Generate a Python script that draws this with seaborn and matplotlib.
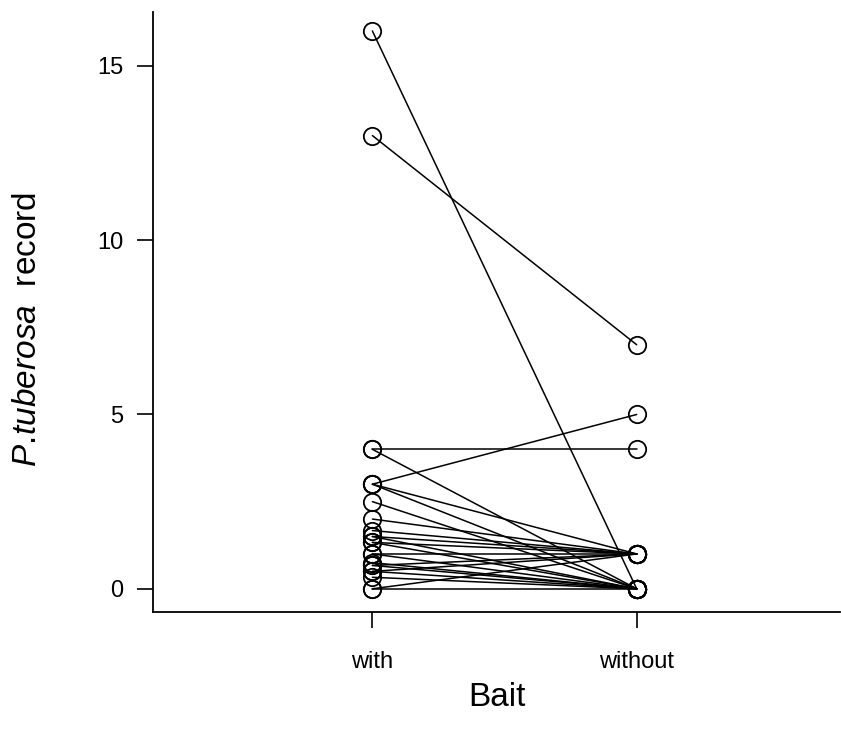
import pandas as pd
import matplotlib.pyplot as plt
import seaborn as sns

# ===== Data: paired records per site, with / without bait =====
categories = ["with", "without"]
with_bait = [16, 13, 4, 4, 3, 3, 3, 2.5, 2, 1.67, 1.5, 1.5, 1.33, 1.33,
             1, 1, 0.75, 0.67, 0.67, 0.5, 0.5, 0.33, 0, 0]
without_bait = [0, 7, 4, 0, 5, 1, 0, 0, 1, 1, 0, 1, 1, 0,
                1, 0, 0, 1, 0, 1, 0, 0, 1, 0]
yticks = [0, 5, 10, 15]

pairs = list(range(len(with_bait)))
df = pd.DataFrame({
    "pair": pairs + pairs,
    "Bait": [categories[0]] * len(pairs) + [categories[1]] * len(pairs),
    "record": with_bait + without_bait,
})

sns.set_style("ticks")
plt.rcParams["font.family"] = ["Liberation Sans", "DejaVu Sans"]
plt.rcParams["mathtext.fontset"] = "custom"
plt.rcParams["mathtext.it"] = "Liberation Sans:italic"
plt.rcParams["mathtext.rm"] = "Liberation Sans"
plt.rcParams["text.color"] = "black"
plt.rcParams["axes.labelcolor"] = "black"
plt.rcParams["xtick.color"] = "black"
plt.rcParams["ytick.color"] = "black"

fig = plt.figure(figsize=(8.41, 7.38), dpi=100)
ax = fig.add_axes([0.182, 0.171, 0.817, 0.813])

sns.lineplot(data=df, x="Bait", y="record", units="pair", estimator=None,
             color="black", linewidth=1.1, marker="o", markersize=12.5,
             markerfacecolor="none", markeredgecolor="black",
             markeredgewidth=1.3, ax=ax)

ax.set_xlim(-0.83, 1.77)
ax.set_ylim(-0.66, 16.55)
ax.set_yticks(yticks)
ax.set_xticks([0, 1])
ax.set_xticklabels(categories)

ax.tick_params(axis="both", length=11.5, width=1.2, labelsize=17,
               color="black", labelcolor="black")
ax.tick_params(axis="x", pad=17)
ax.tick_params(axis="y", pad=10)

for side in ["top", "right"]:
    ax.spines[side].set_visible(False)
for side in ["left", "bottom"]:
    ax.spines[side].set_linewidth(1.3)
    ax.spines[side].set_color("black")

ax.set_xlabel("Bait", fontsize=24, labelpad=6)
ax.set_ylabel(r"$\it{P.\!tuberosa}$  record", fontsize=24)
ax.yaxis.set_label_coords(-0.16, 0.47)

plt.savefig("out.png", dpi=100)
